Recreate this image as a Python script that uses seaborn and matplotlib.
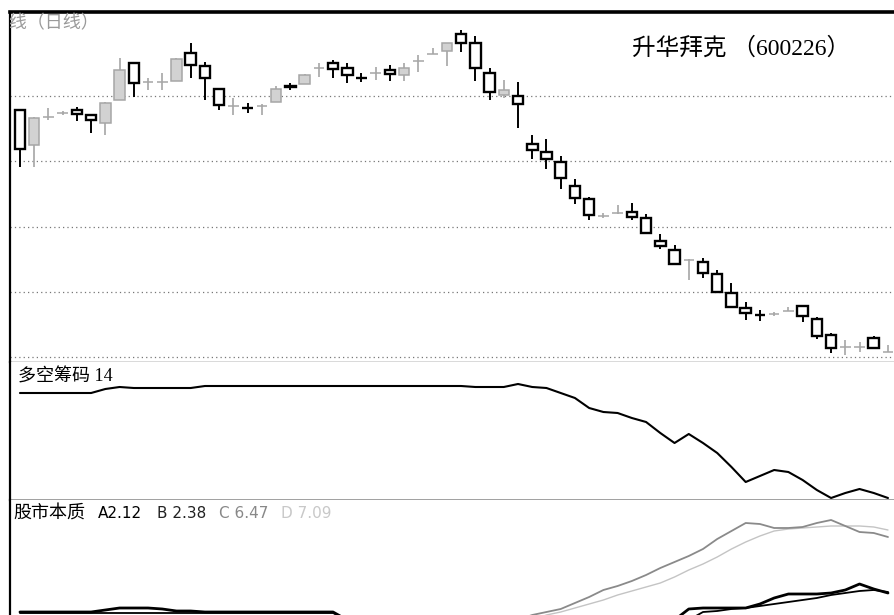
import numpy as np
import pandas as pd
import matplotlib
matplotlib.use("Agg")
import matplotlib.pyplot as plt
import seaborn as sns

# ---- data ----
days = list(range(62))

opens = [9.57, 8.50, 9.36, 9.48, 9.57, 9.42, 9.17, 9.88, 11.01, 10.43,
         10.43, 10.46, 11.32, 10.92, 10.21, 9.69, 9.64, 9.69, 9.82, 10.29,
         10.37, 10.86, 11.01, 10.86, 10.56, 10.70, 10.80, 10.64, 11.07, 11.29,
         11.38, 11.90, 11.62, 10.70, 10.03, 10.00, 8.53, 8.29, 7.98, 7.24,
         6.85, 6.33, 6.42, 6.45, 6.27, 5.56, 5.28, 4.98, 4.92, 4.55,
         3.97, 3.51, 3.30, 3.32, 3.41, 3.57, 3.17, 2.68, 2.31, 2.31,
         2.59, 2.16]
highs = [9.60, 9.35, 9.63, 9.54, 9.66, 9.42, 9.80, 11.16, 11.03, 10.55,
         10.70, 11.15, 11.62, 11.04, 10.22, 9.94, 9.79, 9.75, 10.31, 10.40,
         10.66, 11.01, 11.10, 11.01, 10.70, 10.89, 10.95, 11.01, 11.26, 11.47,
         11.63, 12.02, 11.84, 10.86, 10.49, 10.43, 8.81, 8.68, 8.16, 7.46,
         6.91, 6.42, 6.66, 6.72, 6.39, 5.77, 5.44, 4.99, 5.04, 4.67,
         4.27, 3.69, 3.45, 3.38, 3.54, 3.58, 3.23, 2.74, 2.53, 2.47,
         2.65, 2.37]
lows = [7.83, 7.83, 9.27, 9.42, 9.24, 8.87, 8.81, 9.88, 9.97, 10.18,
        10.18, 10.45, 10.55, 9.88, 9.57, 9.42, 9.48, 9.42, 9.80, 10.18,
        10.35, 10.58, 10.55, 10.40, 10.43, 10.49, 10.46, 10.46, 10.73, 11.29,
        10.92, 11.35, 10.46, 9.88, 9.94, 9.02, 8.07, 7.76, 7.15, 6.69,
        6.20, 6.27, 6.39, 6.20, 5.78, 5.31, 4.83, 4.36, 4.43, 3.98,
        3.52, 3.14, 3.11, 3.26, 3.41, 3.08, 2.56, 2.13, 2.07, 2.16,
        2.26, 2.16]
closes = [8.38, 9.33, 9.36, 9.48, 9.45, 9.27, 9.79, 10.80, 10.40, 10.43,
          10.43, 11.13, 10.95, 10.55, 9.72, 9.69, 9.62, 9.69, 10.21, 10.27,
          10.64, 10.86, 10.83, 10.64, 10.54, 10.70, 10.67, 10.86, 11.07, 11.29,
          11.62, 11.62, 10.86, 10.12, 10.18, 9.75, 8.35, 8.07, 7.49, 6.88,
          6.36, 6.33, 6.42, 6.30, 5.80, 5.41, 4.85, 4.98, 4.58, 4.00,
          3.54, 3.35, 3.28, 3.32, 3.41, 3.26, 2.65, 2.28, 2.31, 2.31,
          2.28, 2.16]

# 多空筹码 14
chip = [107, 107, 107, 107, 107, 107, 111, 113, 112, 112,
        112, 112, 112, 114, 114, 114, 114, 114, 114, 114,
        114, 114, 114, 114, 114, 114, 114, 114, 114, 114,
        114, 114, 113, 113, 113, 116, 113, 112, 107, 102,
        92, 88, 87, 82, 78, 67, 57, 66, 57, 47,
        33, 18, 24, 30, 28, 20, 10, 2, 7, 11,
        7, 2]

# 股市本质 A / B / C / D
line_a = [3, 3, 3, 3, 3, 3, 5, 7, 7, 7,
          6, 4, 4, 3, 3, 3, 3, 3, 3, 3,
          3, 3, 3, -5, -5, -5, -5, -5, -5, -5,
          -5, -5, -5, -5, -5, -5, -5, -5, -5, -5,
          -5, -5, -5, -5, -5, -5, -5, 6, 7, 7,
          7, 7, 11, 17, 21, 21, 21, 22, 25, 31,
          26, 22]
line_b = [2, 2, 2, 2, 2, 2, 2, 2, 2, 2,
          2, 2, 2, 2, 2, 2, 2, 2, 2, 2,
          2, 2, 2, -5, -5, -5, -5, -5, -5, -5,
          -5, -5, -5, -5, -5, -5, -5, -5, -5, -5,
          -5, -5, -5, -5, -5, -5, -5, -5, 3, 4,
          6, 7, 9, 11, 13, 15, 17, 20, 22, 24,
          25, 23]
line_c = [-5, -5, -5, -5, -5, -5, -5, -5, -5, -5,
          -5, -5, -5, -5, -5, -5, -5, -5, -5, -5,
          -5, -5, -5, -5, -5, -5, -5, -5, -5, -5,
          -5, -5, -5, -5, -5, -5, 0, 3, 6, 12,
          18, 25, 29, 34, 40, 47, 53, 59, 66, 76,
          84, 92, 91, 87, 87, 88, 92, 95, 89, 83,
          82, 78]
line_d = [-5, -5, -5, -5, -5, -5, -5, -5, -5, -5,
          -5, -5, -5, -5, -5, -5, -5, -5, -5, -5,
          -5, -5, -5, -5, -5, -5, -5, -5, -5, -5,
          -5, -5, -5, -5, -5, -5, -5, 0, 3, 7,
          11, 15, 20, 24, 28, 32, 38, 45, 51, 58,
          66, 73, 79, 84, 86, 87, 88, 89, 89, 89,
          88, 85]

price_grid = [2, 4, 6, 8, 10]
title = "升华拜克 （600226）"

# ---- figure ----
sns.set_theme(style="white")
plt.rcParams['font.family'] = ['Liberation Serif', 'Noto Sans CJK SC', 'DejaVu Sans']

W, H = 895, 615
fig = plt.figure(figsize=(W / 100, H / 100), dpi=100)
left = 10 / W
ax1 = fig.add_axes([left, 1 - 362 / H, 1.0, (362 - 12) / H])
ax2 = fig.add_axes([left, 1 - 500 / H, 1.0, (500 - 362) / H])
ax3 = fig.add_axes([left, 0, 1.0, (615 - 500) / H])

xlim = (-0.70, -0.70 + W / 14.23)

df = pd.DataFrame({'day': days, 'open': opens, 'high': highs,
                   'low': lows, 'close': closes})
df['bottom'] = df[['open', 'close']].min(axis=1)
df['height'] = (df['close'] - df['open']).abs().clip(lower=0.005)
up = df[df['close'] >= df['open']]
down = df[df['close'] < df['open']]

# candles
ax1.vlines(up['day'], up['low'], up['high'], color='#a6a6a6', lw=1.2, zorder=2)
ax1.vlines(down['day'], down['low'], down['high'], color='black', lw=1.4, zorder=2)
ax1.bar(up['day'], up['height'], bottom=up['bottom'], width=0.74,
        color='#d2d2d2', edgecolor='#a6a6a6', lw=1.1, zorder=3)
ax1.bar(down['day'], down['height'], bottom=down['bottom'], width=0.74,
        color='white', edgecolor='black', lw=1.7, zorder=3)

ax1.set_xlim(*xlim)
ax1.set_ylim(1.85, 12.57)
ax1.set_yticks(price_grid)
ax1.yaxis.grid(True, ls=(0, (1, 2.5)), color='#777777', lw=0.9)
ax1.set_xticks([])
ax1.set_yticklabels([])
ax1.tick_params(length=0)

ax1.text((99 - 10) / W, 1 - 11 / 350, "K线（日线）", transform=ax1.transAxes,
         ha='right', va='center', fontsize=13, color='#9a9a9a',
         family=['Noto Sans CJK SC', 'DejaVu Sans'], clip_on=True)
fig.text(632 / W, 1 - 48 / H, title, ha='left', va='center', fontsize=17,
         color='black')

# 多空筹码
sns.lineplot(x=days, y=chip, ax=ax2, color='black', lw=1.5)
ax2.set_xlim(*xlim)
ax2.set_ylim(0, 138)
ax2.set_xticks([])
ax2.set_yticks([])
ax2.set_xlabel('')
ax2.set_ylabel('')
ax2.text(8 / W, 1 - 15 / 138, "多空筹码 14", transform=ax2.transAxes,
         ha='left', va='center', fontsize=13, color='black')

# 股市本质
sns.lineplot(x=days, y=line_d, ax=ax3, color='#c4c4c4', lw=1.0)
sns.lineplot(x=days, y=line_c, ax=ax3, color='#8a8a8a', lw=1.3)
sns.lineplot(x=days, y=line_b, ax=ax3, color='black', lw=1.3)
sns.lineplot(x=days, y=line_a, ax=ax3, color='black', lw=2.0)
ax3.set_xlim(*xlim)
ax3.set_ylim(0, 115)
ax3.set_xticks([])
ax3.set_yticks([])
ax3.set_xlabel('')
ax3.set_ylabel('')

ty = 1 - 14 / 115
ax3.text(3 / W, ty, "股市本质", transform=ax3.transAxes, ha='left',
         va='center', fontsize=13, color='black')
labels = [("A2.12", 98, 'black'), ("B 2.38", 157, '#222222'),
          ("C 6.47", 219, '#888888'), ("D 7.09", 281, '#c8c8c8')]
for txt, px, col in labels:
    ax3.text((px - 10) / W, ty, txt, transform=ax3.transAxes, ha='left',
             va='center', fontsize=11, color=col, family=['DejaVu Sans'])

# frame
for ax in (ax1, ax2, ax3):
    ax.spines['right'].set_visible(False)
    ax.spines['left'].set_color('black')
    ax.spines['left'].set_linewidth(1.6)
    ax.set_facecolor('white')
ax1.spines['top'].set_color('black')
ax1.spines['top'].set_linewidth(2.6)
ax1.spines['bottom'].set_color('#444444')
ax1.spines['bottom'].set_linewidth(1.0)
ax2.spines['top'].set_visible(False)
ax2.spines['bottom'].set_color('#999999')
ax2.spines['bottom'].set_linewidth(1.3)
ax3.spines['top'].set_visible(False)
ax3.spines['bottom'].set_visible(False)

fig.savefig("out.png", dpi=100, facecolor='white')
plt.close(fig)
